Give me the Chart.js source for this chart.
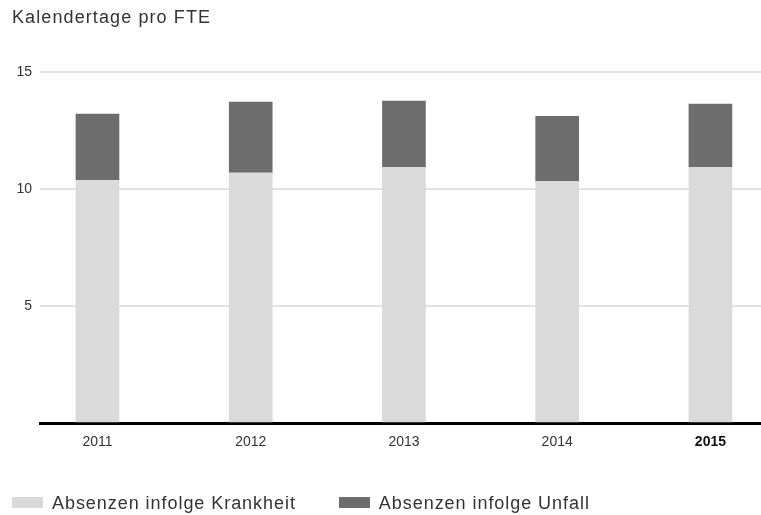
<!DOCTYPE html>
<html>
<head>
<meta charset="utf-8">
<script src="https://cdn.jsdelivr.net/npm/chart.js@4"></script>
<style>
  html, body { margin: 0; padding: 0; background: #fff; overflow: hidden; }
  #wrap { position: relative; width: 761px; height: 515px; font-family: "Liberation Sans", Arial, sans-serif; color: #333; }
  #chart { position: absolute; left: 0; top: 0; }
  .title { position: absolute; left: 12px; top: 8px; font-size: 18px; line-height: 18px; letter-spacing: 1.1px; }
  .legend { position: absolute; left: 12px; top: 494px; display: flex; gap: 43px; font-size: 18px; line-height: 18px; letter-spacing: 0.95px; }
  .legend .item { display: flex; align-items: flex-start; }
  .legend .box { width: 31px; height: 11px; margin-top: 3px; margin-right: 9px; }
</style>
</head>
<body>
<div id="wrap">
  <canvas id="chart" width="761" height="515"></canvas>
  <div class="title">Kalendertage pro FTE</div>
  <div class="legend" id="legend"></div>
</div>
<script>
// Kalendertage pro FTE, 2011-2015
const categories = ['2011', '2012', '2013', '2014', '2015'];
const krankheit = [10.37, 10.69, 10.93, 10.33, 10.93];
const unfall = [2.83, 3.02, 2.83, 2.78, 2.70];
const seriesNames = ['Absenzen infolge Krankheit', 'Absenzen infolge Unfall'];
const seriesColors = ['#d9dad9', '#6d6d6d'];
const yTicks = [0, 5, 10, 15];
const highlightYear = 2015;

const toPoints = (values) => categories.map((c, i) => ({ x: Number(c), y: values[i] }));

const ctx = document.getElementById('chart').getContext('2d');
const chart = new Chart(ctx, {
    type: 'bar',
    data: {
        datasets: [{
            label: seriesNames[0],
            data: toPoints(krankheit),
            backgroundColor: seriesColors[0],
            barThickness: 43,
        }, {
            label: seriesNames[1],
            data: toPoints(unfall),
            backgroundColor: seriesColors[1],
            barThickness: 43,
        }],
    },
    options: {
        responsive: false,
        animation: false,
        layout: { padding: { top: 72, left: 0, right: 0, bottom: 52 } },
        plugins: {
            legend: { display: false },
            tooltip: { enabled: false },
        },
        scales: {
            x: {
                type: 'linear',
                stacked: true,
                offset: false,
                min: 2010.625,
                max: 2015.33,
                grid: { display: false, drawTicks: false, offset: false },
                border: { display: true, color: '#000', width: 3 },
                afterBuildTicks: (scale) => {
                    scale.ticks = categories.map(c => ({ value: Number(c) }));
                },
                afterFit: (scale) => { scale.height = 40; },
                ticks: {
                    padding: 11,
                    autoSkip: false,
                    maxRotation: 0,
                    callback: (v) => String(v),
                    color: (c) => c.tick && c.tick.value === highlightYear ? '#111' : '#333',
                    font: (c) => ({
                        family: '"Liberation Sans", Arial, sans-serif',
                        size: 14,
                        weight: c.tick && c.tick.value === highlightYear ? 'bold' : 'normal',
                    }),
                },
            },
            y: {
                stacked: true,
                min: 0,
                max: 15,
                grid: {
                    drawTicks: false,
                    lineWidth: 2,
                    color: (c) => c.tick && c.tick.value === 0 ? 'rgba(0,0,0,0)' : '#e3e3e3',
                },
                border: { display: false },
                afterBuildTicks: (scale) => {
                    scale.ticks = yTicks.map(v => ({ value: v }));
                },
                afterFit: (scale) => { scale.width = 40; },
                ticks: {
                    padding: 8,
                    color: '#333',
                    font: { family: '"Liberation Sans", Arial, sans-serif', size: 14 },
                    callback: (v) => v === 0 ? '' : String(v),
                },
            },
        },
    },
});

// legend built from the same series arrays
const legendEl = document.getElementById('legend');
seriesNames.forEach((name, i) => {
    const item = document.createElement('div');
    item.className = 'item';
    const box = document.createElement('span');
    box.className = 'box';
    box.style.background = seriesColors[i];
    const label = document.createElement('span');
    label.textContent = name;
    item.appendChild(box);
    item.appendChild(label);
    legendEl.appendChild(item);
});
</script>
</body>
</html>
